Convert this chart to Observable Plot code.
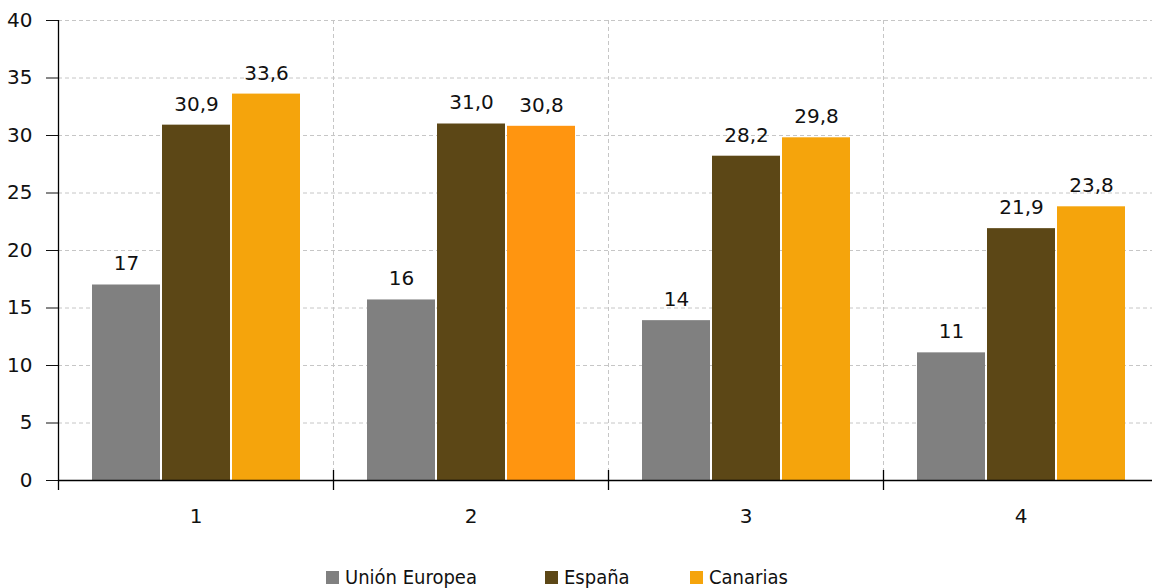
<!DOCTYPE html>
<html><head><meta charset="utf-8">
<script src="https://cdn.jsdelivr.net/npm/d3@7"></script>
<script src="https://cdn.jsdelivr.net/npm/@observablehq/plot@0.6"></script>
<style>
body{margin:0;background:#fff;font-family:"DejaVu Sans",sans-serif;color:#111;}
#chart svg{display:block;}
#legend{position:relative;height:28px;font-size:20px;font-family:"DejaVu Sans Condensed","DejaVu Sans",sans-serif;font-stretch:condensed;}
#legend .item{position:absolute;top:0;display:flex;align-items:center;height:34px;white-space:nowrap;}
#legend .sw{width:13px;height:13px;margin-right:6px;}
</style></head><body><div id="chart"></div><div id="legend"></div>
<script>
const categories = ["1", "2", "3", "4"];
const series = ["Unión Europea", "España", "Canarias"];
const ue = [17.0, 15.7, 13.9, 11.1];
const espana = [30.9, 31.0, 28.2, 21.9];
const canarias = [33.6, 30.8, 29.8, 23.8];
const yTicks = [0, 5, 10, 15, 20, 25, 30, 35, 40];

// styles
const seriesColors = ["#808080", "#5C4716", "#F5A40C"];
const canariasFills = ["#F5A40C", "#FF9510", "#F5A40C", "#F5A40C"];
const gridColor = "#c6c6c6";
const left = 58, right = 1158, bw = (right - left) / categories.length;
const barW = 68, step = 70, outer = 34;

const fmtComma = v => v.toFixed(1).replace(".", ",");
const valuesBySeries = [ue, espana, canarias];
const labelFns = [v => String(Math.round(v)), fmtComma, fmtComma];

const marks = [];
marks.push(Plot.ruleY(yTicks.slice(1), {stroke: gridColor, strokeDasharray: "4,3", strokeWidth: 1}));
marks.push(Plot.ruleX(categories.slice(1), {dx: -bw / 2, stroke: gridColor, strokeDasharray: "4,3"}));

valuesBySeries.forEach((vals, s) => {
  const rows = categories.map((c, i) => ({cat: c, value: vals[i], label: labelFns[s](vals[i]),
    fill: s === 2 ? canariasFills[i] : seriesColors[s]}));
  const il = outer + step * s;
  const ir = bw - il - barW;
  marks.push(Plot.barY(rows, {x: "cat", y: "value", fill: "fill", insetLeft: il, insetRight: ir}));
  marks.push(Plot.text(rows, {x: "cat", y: "value", text: "label", dx: il + barW / 2 - bw / 2, dy: -21,
    fontSize: 20, fill: "#111", style: "letter-spacing:0.5px"}));
});
marks.push(Plot.ruleY([0], {stroke: "#000", strokeWidth: 1.3}));
marks.push(Plot.ruleX([categories[0]], {dx: -bw / 2, stroke: "#000", strokeWidth: 1.3, insetBottom: -10}));
marks.push(Plot.ruleX(categories.slice(1), {dx: -bw / 2, stroke: "#000", strokeWidth: 1.3, insetTop: 450, insetBottom: -10}));

const chart = Plot.plot({
  width: 1152,
  height: 560,
  marginTop: 20,
  marginBottom: 80,
  marginLeft: left,
  marginRight: 0,
  style: {fontSize: "20px", fontFamily: "DejaVu Sans, sans-serif", color: "#111", background: "#fff"},
  x: {domain: categories, range: [left, right], padding: 0, tickSize: 0, tickPadding: 28, label: null},
  y: {domain: [0, 40], ticks: yTicks, tickSize: 12, tickPadding: 14, label: null},
  marks
});
document.getElementById("chart").appendChild(chart);

const legendLefts = [326, 545, 690];
const legend = document.getElementById("legend");
series.forEach((name, s) => {
  const it = document.createElement("div");
  it.className = "item";
  it.style.left = legendLefts[s] + "px";
  it.innerHTML = `<span class="sw" style="background:${seriesColors[s]}"></span><span>${name}</span>`;
  legend.appendChild(it);
});
</script></body></html>
